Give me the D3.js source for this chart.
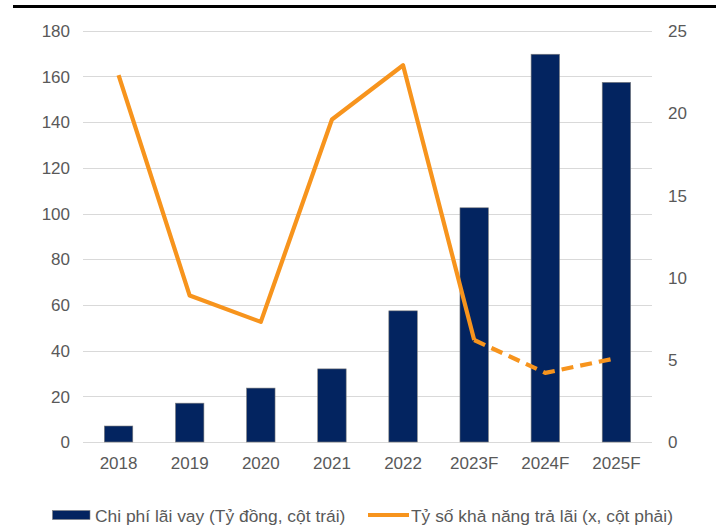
<!DOCTYPE html>
<html>
<head>
<meta charset="utf-8">
<script src="https://cdn.jsdelivr.net/npm/d3@7"></script>
<style>
  html, body { margin: 0; padding: 0; background: #fff; }
  svg { display: block; }
  text { font-family: "Liberation Sans", Arial, sans-serif; fill: #595959; }
</style>
</head>
<body>
<div id="chart"></div>
<script>
const categories = ["2018", "2019", "2020", "2021", "2022", "2023F", "2024F", "2025F"];
const interestExpense = [7, 17, 23.6, 32, 57.4, 102.5, 169.7, 157.4];
const coverageRatio = [22.3, 8.9, 7.3, 19.6, 22.9, 6.2, 4.2, 5.1];
const leftTicks = [0, 20, 40, 60, 80, 100, 120, 140, 160, 180];
const rightTicks = [0, 5, 10, 15, 20, 25];
const forecastStartIndex = 5;
const legendLabels = ["Chi phí lãi vay (Tỷ đồng, cột trái)", "Tỷ số khả năng trả lãi (x, cột phải)"];

const W = 723, H = 529;
const plot = { left: 83, right: 652, top: 30.7, bottom: 442 };
const barColor = "#032460";
const lineColor = "#F7941D";

const svg = d3.select("#chart").append("svg").attr("width", W).attr("height", H);

// top border
svg.append("line").attr("x1", 13).attr("x2", 716).attr("y1", 6.5).attr("y2", 6.5)
  .attr("stroke", "#000").attr("stroke-width", 3);

const x = d3.scaleBand().domain(categories).range([plot.left, plot.right])
  .paddingInner(0.6).paddingOuter(0.3);
const yL = d3.scaleLinear().domain([0, 180]).range([plot.bottom, plot.top]);
const yR = d3.scaleLinear().domain([0, 25]).range([plot.bottom, plot.top]);

// gridlines
svg.append("g").selectAll("line").data(leftTicks).join("line")
  .attr("x1", plot.left).attr("x2", plot.right)
  .attr("y1", d => Math.round(yL(d)) + 0.5).attr("y2", d => Math.round(yL(d)) + 0.5)
  .attr("stroke", "#d9d9d9").attr("stroke-width", 1);

// left axis
const axL = svg.append("g").attr("transform", `translate(${plot.left - 13},0)`)
  .call(d3.axisLeft(yL).tickValues(leftTicks).tickSize(0).tickPadding(0));
axL.select(".domain").remove();
axL.selectAll("text").attr("font-size", 17).attr("dy", "0.34em")
  .style("font-family", '"Liberation Sans", Arial, sans-serif').attr("fill", "#595959");

// right axis
const axR = svg.append("g").attr("transform", `translate(${plot.right + 16},0)`)
  .call(d3.axisRight(yR).tickValues(rightTicks).tickSize(0).tickPadding(0));
axR.select(".domain").remove();
axR.selectAll("text").attr("font-size", 17).attr("dy", "0.34em")
  .style("font-family", '"Liberation Sans", Arial, sans-serif').attr("fill", "#595959");

// x axis labels
const axX = svg.append("g").attr("transform", `translate(0,${plot.bottom})`)
  .call(d3.axisBottom(x).tickSize(0).tickPadding(0));
axX.select(".domain").remove();
axX.selectAll("text").attr("font-size", 17).attr("dy", "27px")
  .style("font-family", '"Liberation Sans", Arial, sans-serif').attr("fill", "#595959");

// bars
svg.append("g").selectAll("rect").data(categories).join("rect")
  .attr("x", d => x(d))
  .attr("width", x.bandwidth())
  .attr("y", (d, i) => yL(interestExpense[i]))
  .attr("height", (d, i) => plot.bottom - yL(interestExpense[i]))
  .attr("fill", barColor)
  .attr("stroke", "#7f7f7f").attr("stroke-width", 0.6);

// line
const pts = categories.map((c, i) => [x(c) + x.bandwidth() / 2, yR(coverageRatio[i])]);
const lineGen = d3.line();
svg.append("path").attr("d", lineGen(pts.slice(0, forecastStartIndex + 1)))
  .attr("fill", "none").attr("stroke", lineColor).attr("stroke-width", 4.2)
  .attr("stroke-linejoin", "round");
svg.append("path").attr("d", lineGen(pts.slice(forecastStartIndex)))
  .attr("fill", "none").attr("stroke", lineColor).attr("stroke-width", 4.2)
  .attr("stroke-dasharray", "12,7").attr("stroke-linejoin", "round");

// legend
const lg = svg.append("g");
lg.append("rect").attr("x", 52.5).attr("y", 510.5).attr("width", 37.5).attr("height", 9)
  .attr("fill", barColor).attr("stroke", "#7f7f7f").attr("stroke-width", 0.6);
lg.append("text").attr("x", 95).attr("y", 522).attr("font-size", 17.4).text(legendLabels[0]);
lg.append("line").attr("x1", 368).attr("x2", 409).attr("y1", 515).attr("y2", 515)
  .attr("stroke", lineColor).attr("stroke-width", 4);
lg.append("text").attr("x", 411).attr("y", 522).attr("font-size", 17.4).text(legendLabels[1]);
</script>
</body>
</html>
